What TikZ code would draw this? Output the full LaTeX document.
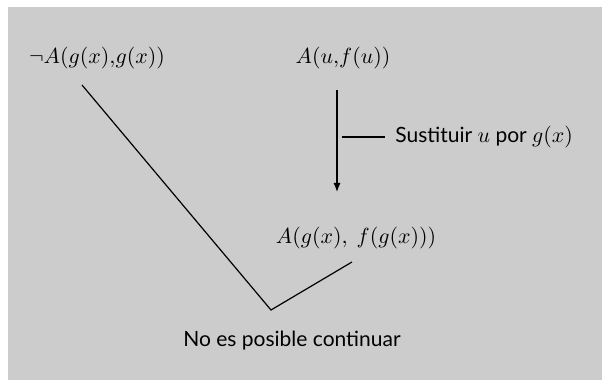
\documentclass[tikz,border=0pt]{standalone}
\usepackage{amsmath,amssymb}
\usepackage{fontspec}
\setmainfont{Lato}
\usepackage{tikz}
\usetikzlibrary{arrows.meta,positioning,calc}
\definecolor{panelgray}{RGB}{204,204,204}

\begin{document}
\begin{tikzpicture}[x=0.5pt,y=-0.5pt,
  lbl/.style={inner sep=1pt,font=\fontsize{10.5}{12}\selectfont},
  link/.style={line width=0.6pt}]
\useasboundingbox (0,0) rectangle (602,380);
\fill[panelgray] (8,7) rectangle (602,380);
% formulas
\node[lbl] (neg) at (97,58) {$\neg A(g(x){,}g(x))$};
\node[lbl] (auf) at (343,58) {$A(u{,}f(u))$};
\node[lbl] (agf) at (356,238) {$A(g(x),\ f(g(x)))$};
\node[lbl,anchor=west] (sust) at (393,137) {Sustituir $u$ por $g(x)$};
\node[lbl] (nocont) at (292,341) {No es posible continuar};
% end points
\coordinate (negend) at (82,85);
\coordinate (apex) at (271,310);
\coordinate (agfend) at (352,262);
\coordinate (arrtop) at (337,90);
\coordinate (arrbot) at (337,192);
\coordinate (tick) at (342,137);
\draw[link] (negend) -- (apex) -- (agfend);
\draw[link,-{Latex[length=4.5pt,width=3.5pt]}] (arrtop) -- (arrbot);
\draw[link] (tick) -- (385,137);
\end{tikzpicture}
\end{document}
